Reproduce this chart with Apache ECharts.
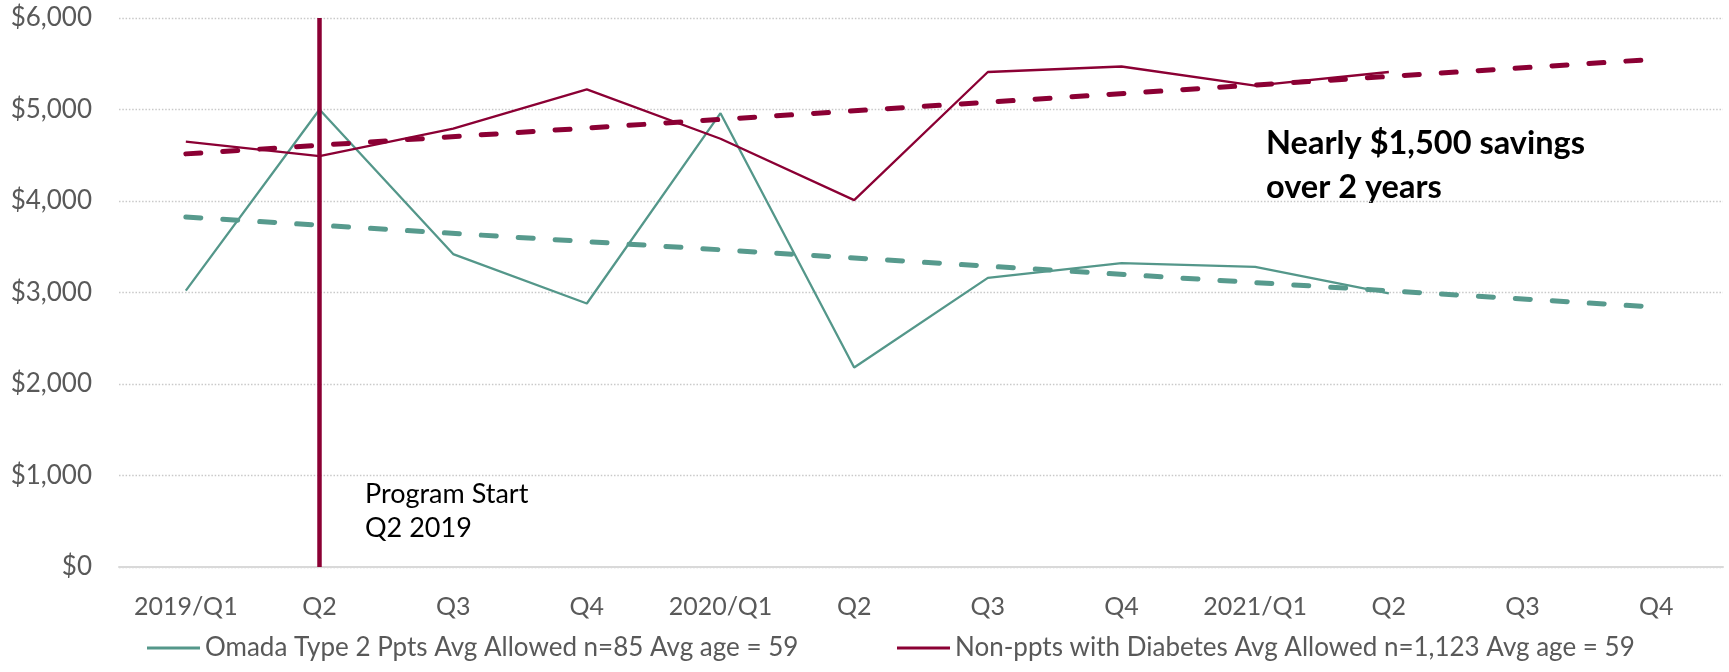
<!DOCTYPE html>
<html>
<head>
<meta charset="utf-8">
<title>Average Allowed Cost per Quarter</title>
<script src="https://cdn.jsdelivr.net/npm/echarts@6/dist/echarts.min.js"></script>
<style>
  html, body { margin: 0; padding: 0; background: #ffffff; }
  #chart { width: 1729px; height: 672px; }
</style>
</head>
<body>
<div id="chart"></div>
<script>
// Quarter labels along the x axis
const quarters = ['2019/Q1', 'Q2', 'Q3', 'Q4', '2020/Q1', 'Q2', 'Q3', 'Q4', '2021/Q1', 'Q2', 'Q3', 'Q4'];

// Average allowed amount per member, by quarter (USD)
const omadaAllowed = [3020, 5000, 3420, 2880, 4960, 2180, 3160, 3320, 3280, 2990];
const nonPptsAllowed = [4650, 4490, 4790, 5220, 4680, 4010, 5410, 5470, 5260, 5410];

// Linear trend lines: value at the first and at the last quarter
const omadaTrendEnds = [3825, 2840];
const nonPptsTrendEnds = [4515, 5550];

// Y axis ticks
const yTicks = [0, 1000, 2000, 3000, 4000, 5000, 6000];

// Index of the quarter when the program started
const programStartIndex = 1;

const seriesNames = [
  'Omada Type 2 Ppts Avg Allowed n=85 Avg age = 59',
  'Non-ppts with Diabetes Avg Allowed n=1,123 Avg age = 59'
];

const GREEN = '#54978A';
const RED = '#8B0034';
const FONT = 'Lato, "Open Sans", sans-serif';

// A trend line spans the whole axis: only its two ends are set
function trendData(ends) {
  const arr = quarters.map(() => null);
  arr[0] = ends[0];
  arr[quarters.length - 1] = ends[1];
  return arr;
}

const chart = echarts.init(document.getElementById('chart'), null, { renderer: 'canvas' });

const legendText = { color: '#595959', fontSize: 26, fontFamily: FONT, padding: [0, 0, 0, 0] };

const option = {
  backgroundColor: '#ffffff',
  animation: false,
  textStyle: { fontFamily: FONT },
  grid: { left: 119, right: 6, top: 18, bottom: 105, containLabel: false },
  legend: [
    {
      data: [seriesNames[0]],
      left: 142, top: 630,
      icon: 'rect', itemWidth: 53, itemHeight: 3, itemGap: 0,
      textStyle: legendText
    },
    {
      data: [seriesNames[1]],
      left: 892, top: 630,
      icon: 'rect', itemWidth: 53, itemHeight: 3, itemGap: 0,
      textStyle: legendText
    }
  ],
  xAxis: {
    type: 'category',
    data: quarters,
    boundaryGap: true,
    axisTick: { show: false },
    axisLine: { lineStyle: { color: '#d9d9d9', width: 2 } },
    axisLabel: { color: '#595959', fontSize: 25, margin: 27, interval: 0, fontFamily: FONT },
    splitLine: { show: false }
  },
  yAxis: {
    type: 'value',
    min: yTicks[0],
    max: yTicks[yTicks.length - 1],
    interval: yTicks[1] - yTicks[0],
    axisLine: { show: false },
    axisTick: { show: false },
    axisLabel: {
      color: '#595959', fontSize: 26, margin: 27, fontFamily: FONT,
      formatter: v => '$' + v.toLocaleString('en-US')
    },
    splitLine: { lineStyle: { color: '#c9c9c9', width: 1.3, type: [1.5, 1.8] } }
  },
  series: [
    {
      name: 'Program start',
      type: 'line',
      data: [],
      z: 1,
      markLine: {
        silent: true,
        symbol: 'none',
        label: { show: false },
        lineStyle: { color: RED, width: 4.5, type: 'solid' },
        data: [{ xAxis: programStartIndex }]
      }
    },
    {
      name: seriesNames[0],
      type: 'line',
      data: omadaAllowed,
      symbol: 'none',
      z: 3,
      lineStyle: { color: GREEN, width: 2.3 },
      itemStyle: { color: GREEN }
    },
    {
      name: seriesNames[1],
      type: 'line',
      data: nonPptsAllowed,
      symbol: 'none',
      z: 3,
      lineStyle: { color: RED, width: 2.3 },
      itemStyle: { color: RED }
    },
    {
      name: 'Omada trend',
      type: 'line',
      data: trendData(omadaTrendEnds),
      connectNulls: true,
      symbol: 'none',
      z: 4,
      lineStyle: { color: '#579A8D', width: 5, type: [15, 22], cap: 'round' }
    },
    {
      name: 'Non-ppts trend',
      type: 'line',
      data: trendData(nonPptsTrendEnds),
      connectNulls: true,
      symbol: 'none',
      z: 4,
      lineStyle: { color: RED, width: 5, type: [15, 22], cap: 'round' }
    }
  ],
  graphic: [
    {
      type: 'text',
      left: 1266, top: 122,
      style: {
        text: 'Nearly $1,500 savings\nover 2 years',
        font: 'bold 32.5px ' + FONT,
        fill: '#000000',
        lineHeight: 44
      }
    },
    {
      type: 'text',
      left: 365, top: 477,
      style: {
        text: 'Program Start\nQ2 2019',
        font: '27px ' + FONT,
        fill: '#000000',
        lineHeight: 34
      }
    }
  ]
};

chart.setOption(option);
</script>
</body>
</html>
